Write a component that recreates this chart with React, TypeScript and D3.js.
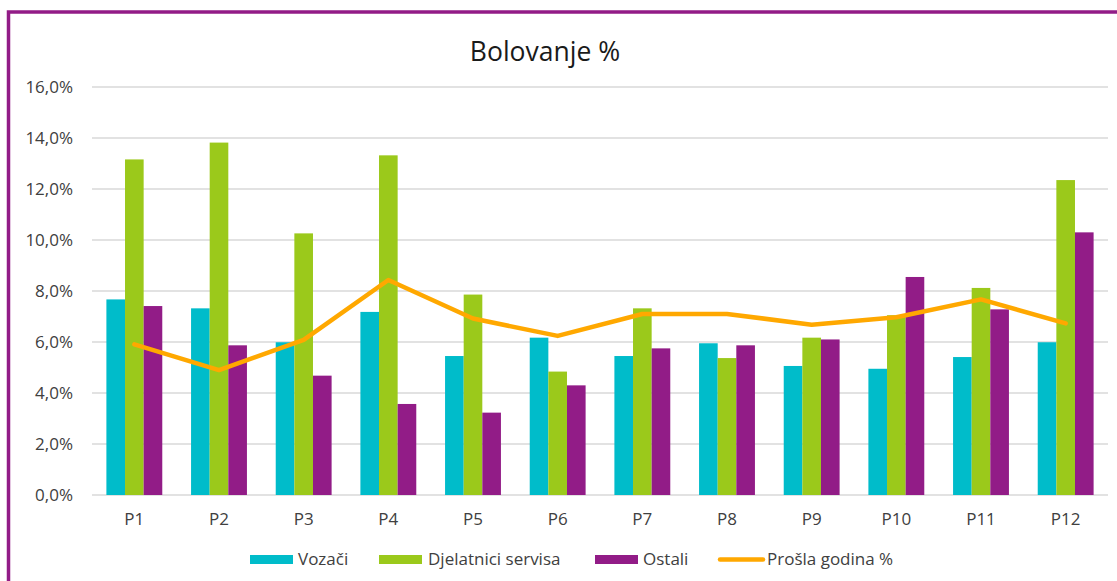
import React from 'react'
import * as d3 from 'd3'

const periods = ['P1', 'P2', 'P3', 'P4', 'P5', 'P6', 'P7', 'P8', 'P9', 'P10', 'P11', 'P12']
const vozaci = [7.67, 7.32, 5.99, 7.18, 5.45, 6.17, 5.45, 5.95, 5.06, 4.95, 5.41, 5.99]
const djelatnici = [13.16, 13.82, 10.26, 13.32, 7.86, 4.84, 7.32, 5.37, 6.17, 7.05, 8.12, 12.35]
const ostali = [7.41, 5.87, 4.68, 3.57, 3.23, 4.3, 5.75, 5.87, 6.1, 8.55, 7.28, 10.3]
const proslaGodina = [5.91, 4.9, 6.08, 8.43, 6.92, 6.24, 7.1, 7.1, 6.68, 6.97, 7.67, 6.73]
const yTicks = [0, 2, 4, 6, 8, 10, 12, 14, 16]

const barSeries = [
  { name: 'Vozači', values: vozaci, color: '#00BCCA' },
  { name: 'Djelatnici servisa', values: djelatnici, color: '#9BC91B' },
  { name: 'Ostali', values: ostali, color: '#921C87' },
]
const lineColor = '#FFA800'

const W = 1117
const H = 581
const font = '"Open Sans", "Noto Sans", sans-serif'

export default function App() {
  const x = d3.scaleBand<string>()
    .domain(periods)
    .range([92, 1108])
    .paddingInner(0.34)
    .paddingOuter(0.17)

  const xSub = d3.scaleBand<string>()
    .domain(barSeries.map(s => s.name))
    .range([0, x.bandwidth()])

  const y = d3.scaleLinear().domain([0, 16]).range([495, 87])

  const line = d3.line<number>()
    .x((_, i) => (x(periods[i]) ?? 0) + x.bandwidth() / 2)
    .y(d => y(d))

  const fmt = (v: number) => v.toFixed(1).replace('.', ',') + '%'

  const legend = [
    { name: 'Vozači', color: barSeries[0].color, sx: 250, tx: 298, type: 'bar' },
    { name: 'Djelatnici servisa', color: barSeries[1].color, sx: 379, tx: 428, type: 'bar' },
    { name: 'Ostali', color: barSeries[2].color, sx: 595, tx: 643, type: 'bar' },
    { name: 'Prošla godina %', color: lineColor, sx: 718, tx: 767, type: 'line' },
  ]

  return (
    <svg
      width={W}
      height={H}
      style={{ position: 'absolute', left: 0, top: 0, background: '#fff' }}
      fontFamily={font}
    >
      <rect x={0} y={0} width={W} height={H} fill="#fff" />
      <rect x={8.5} y={12} width={1300} height={800} fill="none" stroke="#921C87" strokeWidth={3.5} />

      <text x={545} y={61} textAnchor="middle" fontSize={26.5} fill="#1a1a1a">Bolovanje %</text>

      {yTicks.map(t => (
        <g key={t}>
          <line x1={92} x2={1108} y1={y(t)} y2={y(t)} stroke="#D9D9D9" strokeWidth={1.5} />
          <text x={73} y={y(t)} dy="0.36em" textAnchor="end" fontSize={17} fill="#404040">{fmt(t)}</text>
        </g>
      ))}

      {barSeries.map(s => (
        <g key={s.name}>
          {s.values.map((v, i) => (
            <rect
              key={i}
              x={(x(periods[i]) ?? 0) + (xSub(s.name) ?? 0)}
              y={y(v)}
              width={xSub.bandwidth()}
              height={y(0) - y(v)}
              fill={s.color}
            />
          ))}
        </g>
      ))}

      <path d={line(proslaGodina) ?? ''} fill="none" stroke={lineColor} strokeWidth={4.5} strokeLinejoin="round" strokeLinecap="round" />

      {periods.map(p => (
        <text key={p} x={(x(p) ?? 0) + x.bandwidth() / 2} y={525} textAnchor="middle" fontSize={17} fill="#404040">{p}</text>
      ))}

      {legend.map(l => (
        <g key={l.name}>
          {l.type === 'bar'
            ? <rect x={l.sx} y={555} width={43} height={9} fill={l.color} />
            : <line x1={l.sx + 2} x2={l.sx + 45} y1={559.5} y2={559.5} stroke={l.color} strokeWidth={4.5} strokeLinecap="round" />}
          <text x={l.tx} y={565} fontSize={17} fill="#404040">{l.name}</text>
        </g>
      ))}
    </svg>
  )
}
